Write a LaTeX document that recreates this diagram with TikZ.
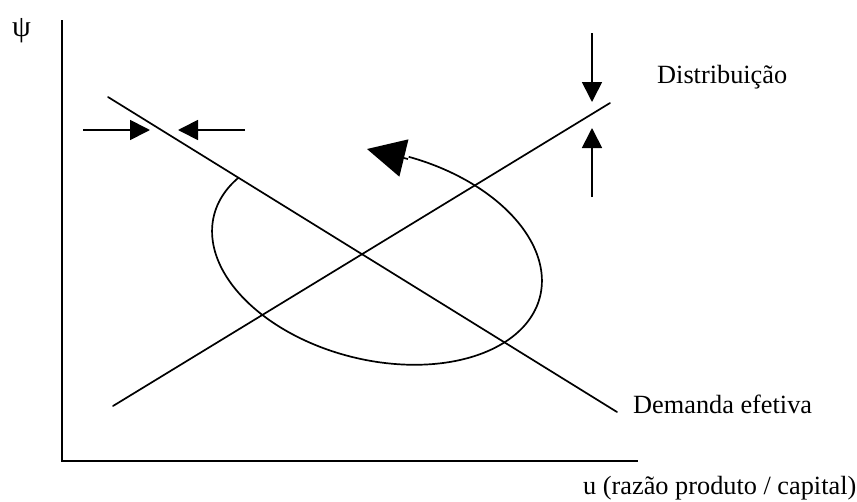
\documentclass[tikz,border=0pt]{standalone}
\usepackage{fontspec}
\setmainfont{Liberation Serif}
\usetikzlibrary{arrows.meta}
\tikzset{
  curve/.style={line width=1.7pt, line cap=round},
  axis/.style={line width=2pt},
  smallarrow/.style={line width=1.7pt, -{Triangle[length=20pt,width=20pt]}},
  bigarrow/.style={line width=1.7pt, -{Triangle[length=38pt,width=38pt]}},
  lbl/.style={inner sep=0pt, anchor=base west, font=\fontsize{26.3}{30}\selectfont}
}
\begin{document}
\begin{tikzpicture}[x=1pt,y=-1pt]
\useasboundingbox (0,0) rectangle (857,501);
% axes
\coordinate (ytop) at (62,20);
\coordinate (origin) at (62,461);
\coordinate (xend) at (638,461);
\draw[axis] (ytop) -- (origin) -- (xend);
% lines
\coordinate (dA) at (108,97);
\coordinate (dB) at (617,412);
\coordinate (sA) at (113,406);
\coordinate (sB) at (610,103);
\draw[curve] (dA) -- (dB);
\draw[curve] (sA) -- (sB);
% cycle (ellipse arc)
\draw[line width=1.7pt] plot[domain=-87.7:204.3, samples=160, smooth]
  ({377 + 168*cos(\x)*0.9703 - 104*sin(\x)*0.2419},
   {256 + 168*cos(\x)*0.2419 + 104*sin(\x)*0.9703});
\coordinate (cycEnd) at (408,159);
\coordinate (cycTip) at (367,149);
\draw[bigarrow] (cycEnd) -- (cycTip);
% horizontal arrows
\coordinate (hL1) at (83,130);
\coordinate (hL2) at (150,130);
\coordinate (hR1) at (245,130);
\coordinate (hR2) at (178,130);
\draw[smallarrow] (hL1) -- (hL2);
\draw[smallarrow] (hR1) -- (hR2);
% vertical arrows
\coordinate (vT1) at (592,33);
\coordinate (vT2) at (592,102);
\coordinate (vB1) at (592,197);
\coordinate (vB2) at (592,128);
\draw[smallarrow] (vT1) -- (vT2);
\draw[smallarrow] (vB1) -- (vB2);
% labels
\node[lbl] (psi) at (12,36) {\fontsize{30}{32}\selectfont ψ};
\node[lbl] (dist) at (657,83) {Distribuição};
\node[lbl] (dem) at (633,413) {Demanda efetiva};
\node[lbl] (xlab) at (583,494) {u (razão produto / capital)};
\end{tikzpicture}
\end{document}
